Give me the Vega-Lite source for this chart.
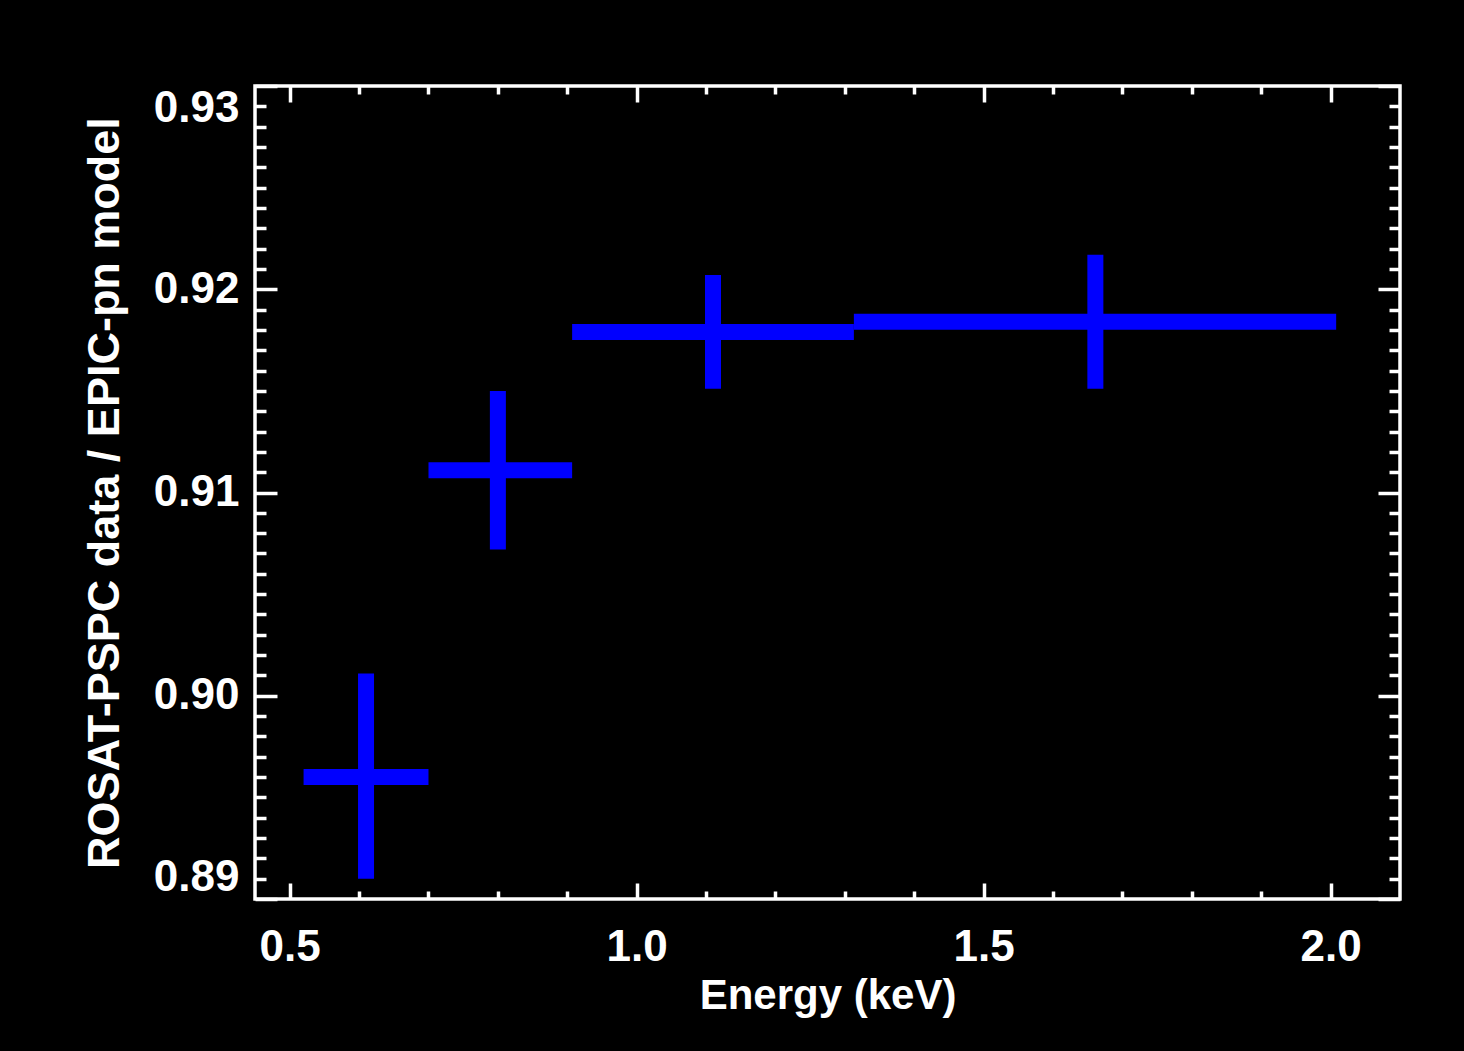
{
  "$schema": "https://vega.github.io/schema/vega-lite/v6.json",
  "autosize": {"type": "none"},
  "width": 1145,
  "height": 813,
  "padding": {"left": 255, "top": 86, "right": 64, "bottom": 152},
  "background": "black",
  "config": {
    "view": {"stroke": "white", "strokeWidth": 3.5, "fill": "black"},
    "font": "Liberation Sans",
    "axis": {
      "grid": false,
      "domain": false,
      "tickColor": "white",
      "tickWidth": 3.5,
      "labelColor": "white",
      "titleColor": "white",
      "labelFont": "Liberation Sans",
      "titleFont": "Liberation Sans",
      "labelFontWeight": "bold",
      "titleFontWeight": "bold",
      "labelFontSize": 44,
      "titleFontSize": 42,
      "labelOverlap": false,
      "labelBound": false
    }
  },
  "data": {
    "values": [
      {"e": 0.61, "elo": 0.52, "ehi": 0.70, "r": 0.8960, "rlo": 0.8910, "rhi": 0.9011},
      {"e": 0.80, "elo": 0.70, "ehi": 0.907, "r": 0.9111, "rlo": 0.9072, "rhi": 0.9150},
      {"e": 1.11, "elo": 0.907, "ehi": 1.313, "r": 0.9179, "rlo": 0.9151, "rhi": 0.9207},
      {"e": 1.661, "elo": 1.313, "ehi": 2.008, "r": 0.9184, "rlo": 0.9151, "rhi": 0.9217}
    ]
  },
  "resolve": {"axis": {"x": "independent", "y": "independent"}},
  "layer": [
    {
      "mark": {"type": "rule", "color": "#0000ff", "strokeWidth": 16, "strokeCap": "butt"},
      "encoding": {
        "x": {
          "field": "elo", "type": "quantitative",
          "scale": {"domain": [0.45, 2.1], "nice": false, "zero": false},
          "axis": {
            "orient": "bottom",
            "title": "Energy (keV)",
            "values": [0.5, 0.6, 0.7, 0.8, 0.9, 1.0, 1.1, 1.2, 1.3, 1.4, 1.5, 1.6, 1.7, 1.8, 1.9, 2.0],
            "tickSize": {"condition": {"test": "abs(datum.value*2 - round(datum.value*2)) < 1e-6", "value": -16}, "value": -8},
            "labelExpr": "abs(datum.value*2 - round(datum.value*2)) < 1e-6 ? format(datum.value, '.1f') : ''",
            "labelPadding": 42,
            "titlePadding": -2
          }
        },
        "x2": {"field": "ehi"},
        "y": {
          "field": "r", "type": "quantitative",
          "scale": {"domain": [0.89, 0.93], "nice": false, "zero": false},
          "axis": {
            "orient": "left",
            "title": "ROSAT-PSPC data / EPIC-pn model",
            "titleFontSize": 45,
            "values": [0.890,0.891,0.892,0.893,0.894,0.895,0.896,0.897,0.898,0.899,0.900,0.901,0.902,0.903,0.904,0.905,0.906,0.907,0.908,0.909,0.910,0.911,0.912,0.913,0.914,0.915,0.916,0.917,0.918,0.919,0.920,0.921,0.922,0.923,0.924,0.925,0.926,0.927,0.928,0.929,0.930],
            "tickSize": {"condition": {"test": "abs(datum.value*100 - round(datum.value*100)) < 1e-6", "value": -22}, "value": -11},
            "labelExpr": "abs(datum.value*100 - round(datum.value*100)) < 1e-6 ? format(datum.value, '.2f') : ''",
            "labelFlush": true,
            "labelFlushOffset": 0,
            "labelPadding": 38,
            "titlePadding": 26
          }
        }
      }
    },
    {
      "mark": {"type": "rule", "color": "#0000ff", "strokeWidth": 16, "strokeCap": "butt"},
      "encoding": {
        "x": {
          "field": "e", "type": "quantitative",
          "axis": {
            "orient": "top",
            "title": null,
            "labels": false,
            "values": [0.5, 0.6, 0.7, 0.8, 0.9, 1.0, 1.1, 1.2, 1.3, 1.4, 1.5, 1.6, 1.7, 1.8, 1.9, 2.0],
            "tickSize": {"condition": {"test": "abs(datum.value*2 - round(datum.value*2)) < 1e-6", "value": -16}, "value": -8}
          }
        },
        "y": {
          "field": "rlo", "type": "quantitative",
          "axis": {
            "orient": "right",
            "title": null,
            "labels": false,
            "values": [0.890,0.891,0.892,0.893,0.894,0.895,0.896,0.897,0.898,0.899,0.900,0.901,0.902,0.903,0.904,0.905,0.906,0.907,0.908,0.909,0.910,0.911,0.912,0.913,0.914,0.915,0.916,0.917,0.918,0.919,0.920,0.921,0.922,0.923,0.924,0.925,0.926,0.927,0.928,0.929,0.930],
            "tickSize": {"condition": {"test": "abs(datum.value*100 - round(datum.value*100)) < 1e-6", "value": -22}, "value": -11}
          }
        },
        "y2": {"field": "rhi"}
      }
    }
  ]
}
